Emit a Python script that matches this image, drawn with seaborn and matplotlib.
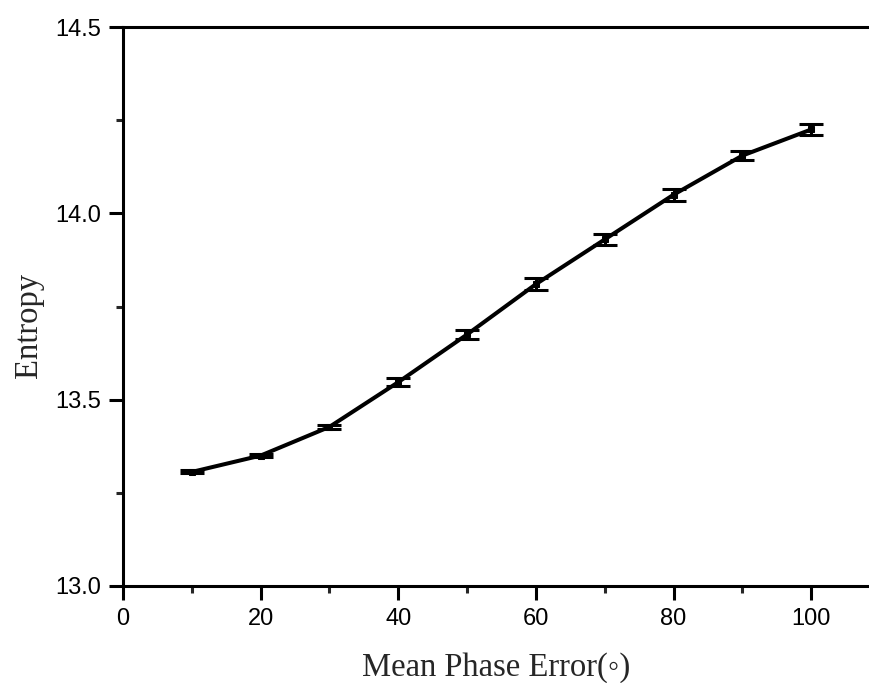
import matplotlib
matplotlib.use("Agg")
import matplotlib.pyplot as plt
import seaborn as sns
import pandas as pd
from matplotlib.ticker import MultipleLocator

mean_phase_error = [10, 20, 30, 40, 50, 60, 70, 80, 90, 100]
entropy = [13.306, 13.350, 13.427, 13.547, 13.675, 13.810, 13.930, 14.050, 14.155, 14.225]
entropy_err = [0.004, 0.005, 0.005, 0.011, 0.012, 0.016, 0.015, 0.016, 0.013, 0.015]

sns.set_style("white")
df = pd.DataFrame({"x": mean_phase_error, "y": entropy, "e": entropy_err})

fig = plt.figure(figsize=(8.69, 6.83), dpi=100)
ax = fig.add_axes([123/869, 1-586/683, (869-123)/869, (586-27)/683])

sns.lineplot(data=df, x="x", y="y", ax=ax, color="black", linewidth=2.9,
             marker="s", markersize=4, markeredgecolor="black")
ax.errorbar(df["x"], df["y"], yerr=df["e"], fmt="none", ecolor="black",
            elinewidth=2.2, capsize=8.5, capthick=2.2)

ax.set_xlim(0, 108.4)
ax.set_ylim(13.0, 14.5)
ax.xaxis.set_major_locator(MultipleLocator(20))
ax.xaxis.set_minor_locator(MultipleLocator(10))
ax.yaxis.set_major_locator(MultipleLocator(0.5))
ax.yaxis.set_minor_locator(MultipleLocator(0.25))
ax.yaxis.set_major_formatter(matplotlib.ticker.FormatStrFormatter("%.1f"))

for side in ["left", "bottom", "top"]:
    ax.spines[side].set_visible(True)
    ax.spines[side].set_linewidth(2.2)
    ax.spines[side].set_color("black")
ax.spines["right"].set_visible(False)

ax.tick_params(axis="both", which="major", direction="out", length=10, width=2.2,
               labelsize=17, colors="black", pad=6, bottom=True, left=True, top=False)
ax.tick_params(axis="both", which="minor", direction="out", length=5, width=2.2,
               bottom=True, left=True, top=False)
for lbl in ax.get_xticklabels() + ax.get_yticklabels():
    lbl.set_fontfamily(["Liberation Sans", "DejaVu Sans"])

ax.set_xlabel("Mean Phase Error(◦)", fontsize=23.5, family=["Liberation Serif", "DejaVu Serif"], labelpad=16)
ax.set_ylabel("Entropy", fontsize=23.5, family=["Liberation Serif", "DejaVu Serif"])
ax.yaxis.set_label_coords(-0.106, 0.467)

fig.savefig("out.png", dpi=100)
